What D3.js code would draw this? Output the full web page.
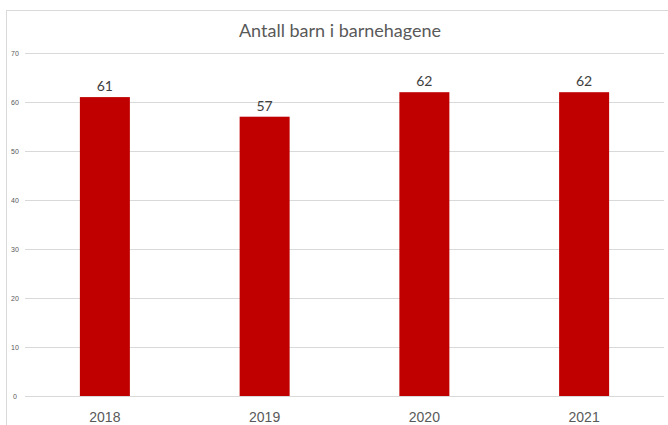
<!DOCTYPE html>
<html>
<head>
<meta charset="utf-8">
<script src="https://cdn.jsdelivr.net/npm/d3@7"></script>
<style>
  body { margin: 0; background: #fff; }
  svg { display: block; font-family: Lato, "Open Sans", sans-serif; }
</style>
</head>
<body>
<div id="chart"></div>
<script>
// DATA
const years = ["2018", "2019", "2020", "2021"];
const children = [61, 57, 62, 62];
const yTicks = [0, 10, 20, 30, 40, 50, 60, 70];

const width = 668, height = 425;
const margin = {top: 53, right: 4, bottom: 29, left: 25};

// SCALES
const xScale = d3.scaleBand()
    .domain(years)
    .range([margin.left, width - margin.right])
    .paddingInner(0.687)
    .paddingOuter(0.3435);

const yScale = d3.scaleLinear()
    .domain([0, 70])
    .range([height - margin.bottom, margin.top]);

const svg = d3.select('#chart')
    .append("svg")
    .attr("width", width)
    .attr("height", height);

// chart border
svg.append("rect")
    .attr("x", 6.5)
    .attr("y", 10.5)
    .attr("width", width + 10)
    .attr("height", height + 10)
    .attr("fill", "none")
    .attr("stroke", "#d9d9d9");

// GRID + Y AXIS
const yAxis = d3.axisLeft(yScale)
    .tickValues(yTicks)
    .tickSize(-(width - margin.right - margin.left))
    .tickPadding(6);

const yAxisGroup = svg.append("g")
    .attr("transform", `translate(${margin.left}, 0)`)
    .call(yAxis);
yAxisGroup.select(".domain").remove();
yAxisGroup.selectAll("line").attr("stroke", "#d9d9d9");
yAxisGroup.selectAll("text")
    .attr("x", -10)
    .attr("text-anchor", "middle")
    .style("font-size", "7px")
    .style("fill", "#595959");

// BARS
svg.selectAll("rect.bar")
    .data(children)
    .join("rect")
    .attr("class", "bar")
    .attr("x", (d, i) => xScale(years[i]))
    .attr("y", d => yScale(d))
    .attr("width", xScale.bandwidth())
    .attr("height", d => yScale(0) - yScale(d))
    .attr("fill", "#c00000");

// VALUE LABELS
svg.selectAll("text.val")
    .data(children)
    .join("text")
    .attr("class", "val")
    .attr("x", (d, i) => xScale(years[i]) + xScale.bandwidth() / 2)
    .attr("y", d => yScale(d) - 6)
    .attr("text-anchor", "middle")
    .style("font-size", "14px")
    .style("fill", "#404040")
    .text(d => d);

// X AXIS
const xAxis = d3.axisBottom(xScale).tickSize(0).tickPadding(16);
const xAxisGroup = svg.append("g")
    .attr("transform", `translate(0, ${height - margin.bottom})`)
    .call(xAxis);
xAxisGroup.select(".domain").remove();
xAxisGroup.selectAll("text")
    .style("font-size", "14px")
    .style("fill", "#595959");

// Title
svg.append("text")
    .attr("x", 340)
    .attr("y", 37)
    .attr("text-anchor", "middle")
    .style("font-size", "18px")
    .style("fill", "#595959")
    .text("Antall barn i barnehagene");
</script>
</body>
</html>
